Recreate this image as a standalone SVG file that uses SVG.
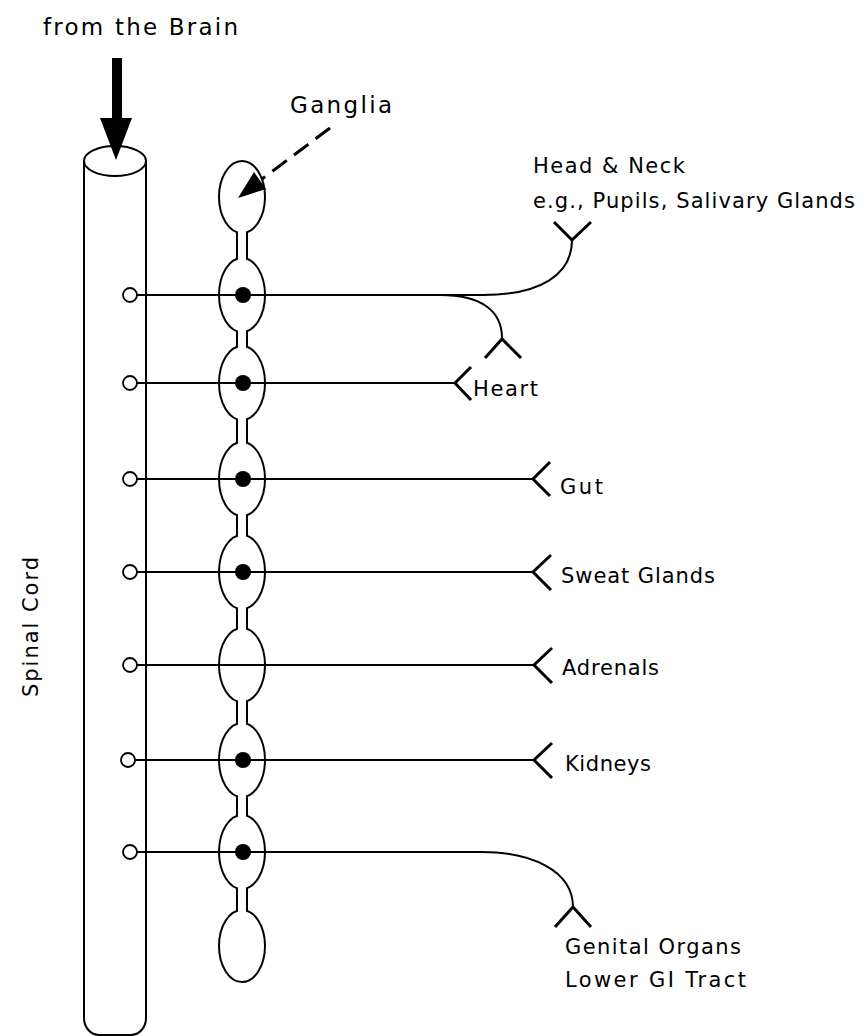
<svg xmlns="http://www.w3.org/2000/svg" width="865" height="1036" viewBox="0 0 865 1036">
<style>
.ln{fill:none;stroke:#000;stroke-width:2}
.fk{fill:none;stroke:#000;stroke-width:3}
.gg{fill:#fff;stroke:#000;stroke-width:2}
.oc{fill:#fff;stroke:#000;stroke-width:1.8}
.dot{fill:#000}
.t{font-family:"DejaVu Sans","Liberation Sans",sans-serif;font-size:21px;fill:#000}
.tb{font-family:"DejaVu Sans","Liberation Sans",sans-serif;font-size:23px;fill:#000}
</style>
<rect width="865" height="1036" fill="#fff"/>

<g id="spinal-cord">
<path class="ln" d="M84,161 V1018 A15,17 0 0 0 99,1035 H131 A15,17 0 0 0 146,1018 V161"/>
<ellipse class="gg" cx="115" cy="161" rx="31" ry="15"/>
<text class="t" transform="translate(38,697) rotate(-90)" textLength="140">Spinal Cord</text>
</g>

<g id="brain-input">
<rect x="112" y="58" width="10" height="62" fill="#000"/>
<polygon points="100,118 132,118 116,160" fill="#000"/>
<text class="tb" x="43" y="35" textLength="195">from the Brain</text>
</g>

<g id="ganglia-chain">
<ellipse class="gg" cx="242" cy="197" rx="23" ry="36"/>
<ellipse class="gg" cx="242" cy="295" rx="23" ry="37"/>
<ellipse class="gg" cx="242" cy="383" rx="23" ry="37"/>
<ellipse class="gg" cx="242" cy="479" rx="23" ry="37"/>
<ellipse class="gg" cx="242" cy="572" rx="23" ry="37"/>
<ellipse class="gg" cx="242" cy="665" rx="23" ry="37"/>
<ellipse class="gg" cx="242" cy="760" rx="23" ry="37"/>
<ellipse class="gg" cx="242" cy="852" rx="23" ry="37"/>
<ellipse class="gg" cx="242" cy="946" rx="23" ry="36"/>
<g fill="#fff">
<rect x="238" y="230" width="8" height="31"/>
<rect x="238" y="329" width="8" height="20"/>
<rect x="238" y="417" width="8" height="28"/>
<rect x="238" y="513" width="8" height="25"/>
<rect x="238" y="606" width="8" height="25"/>
<rect x="238" y="699" width="8" height="27"/>
<rect x="238" y="794" width="8" height="24"/>
<rect x="238" y="886" width="8" height="27"/>
</g>
<path class="ln" d="M237,232 V259 M247,232 V259 M237,331 V347 M247,331 V347 M237,419 V443 M247,419 V443 M237,515 V536 M247,515 V536 M237,608 V629 M247,608 V629 M237,701 V724 M247,701 V724 M237,796 V816 M247,796 V816 M237,888 V911 M247,888 V911"/>
<text class="tb" x="290" y="113" textLength="102">Ganglia</text>
</g>

<g id="connectors">
<path class="ln" d="M137,295 H483 C540,295 572,275 572,240"/>
<path class="ln" d="M440,295 C480,295 502,310 502,338"/>
<path class="ln" d="M137,383 H455"/>
<path class="ln" d="M137,479 H533"/>
<path class="ln" d="M137,572 H533"/>
<path class="ln" d="M137,665 H534"/>
<path class="ln" d="M135,760 H534"/>
<path class="ln" d="M137,852 H482 C530,852 573,870 573,907"/>
<path d="M330,128 L262,179" fill="none" stroke="#000" stroke-width="3" stroke-dasharray="18 9"/>
<polygon points="238,198 266,189 254,172" fill="#000"/>
</g>

<g id="row-circles">
<circle class="oc" cx="130" cy="295" r="7"/>
<circle class="oc" cx="130" cy="383" r="7"/>
<circle class="oc" cx="130" cy="479" r="7"/>
<circle class="oc" cx="130" cy="572" r="7"/>
<circle class="oc" cx="130" cy="665" r="7"/>
<circle class="oc" cx="128" cy="760" r="7"/>
<circle class="oc" cx="130" cy="852" r="7"/>
<circle class="dot" cx="243" cy="295" r="8"/>
<circle class="dot" cx="243" cy="383" r="8"/>
<circle class="dot" cx="243" cy="479" r="8"/>
<circle class="dot" cx="243" cy="572" r="8"/>
<circle class="dot" cx="243" cy="760" r="8"/>
<circle class="dot" cx="243" cy="852" r="8"/>
</g>

<g id="head-neck">
<path class="fk" d="M554,222 L572,240 L591,222"/>
<text class="t" x="533" y="173" textLength="152">Head &amp; Neck</text>
<text class="t" x="533" y="208" textLength="322">e.g., Pupils, Salivary Glands</text>
</g>
<g id="eye-branch">
<path class="fk" d="M485,358 L502,339 L521,358"/>
</g>
<g id="heart">
<path class="fk" d="M471,367 L455,383 L471,400"/>
<text class="t" x="473" y="396" textLength="65">Heart</text>
</g>
<g id="gut">
<path class="fk" d="M550,462 L533,479 L550,496"/>
<text class="t" x="560" y="494" textLength="43">Gut</text>
</g>
<g id="sweat-glands">
<path class="fk" d="M551,555 L533,572 L551,590"/>
<text class="t" x="561" y="583" textLength="154">Sweat Glands</text>
</g>
<g id="adrenals">
<path class="fk" d="M552,648 L534,665 L552,683"/>
<text class="t" x="562" y="675" textLength="97">Adrenals</text>
</g>
<g id="kidneys">
<path class="fk" d="M552,743 L534,760 L552,778"/>
<text class="t" x="565" y="771" textLength="86">Kidneys</text>
</g>
<g id="genital">
<path class="fk" d="M555,927 L573,907 L591,927"/>
<text class="t" x="565" y="954" textLength="176">Genital Organs</text>
<text class="t" x="565" y="987" textLength="181">Lower GI Tract</text>
</g>
</svg>
